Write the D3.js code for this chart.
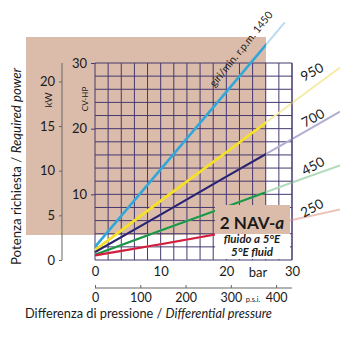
<!DOCTYPE html>
<html lang="it">
<head>
<meta charset="UTF-8">
<title>2 NAV-a – Potenza richiesta</title>
<script src="https://d3js.org/d3.v7.min.js"></script>
<style>
  body { margin: 0; background: #fff; }
  text { font-family: Lato, "Noto Sans", sans-serif; fill: #1a1a1a; }
</style>
</head>
<body>
<script>
// pressure points (bar) where each curve was read, and power in CV-HP
const pressBar = [0, 10, 20, 30, 37.3];
const press1450 = [0, 10, 20, 28.9];
const hp1450 = [2.0, 13.8, 25.6, 36.2];
const hp950 = [1.5, 9.0, 16.4, 23.9, 29.3];
const hp700 = [1.2, 6.9, 12.7, 18.4, 22.6];
const hp450 = [0.8, 4.5, 8.1, 11.8, 14.4];
const hp250 = [0.7, 2.4, 4.2, 6.1, 7.7];

const rpmLabels = ["1450", "950", "700", "450", "250"];
const strong = ["#33a6d8", "#f6e024", "#29226f", "#1c9645", "#d21d3f"];
const pale = ["#b7dcef", "#f5ecaa", "#b1aed2", "#b2dbbd", "#eec3b9"];

const barTicks = [0, 10, 20, 30];
const hpTicks = [10, 20, 30];
const kwTicks = [0, 5, 10, 15, 20];
const psiTicks = [0, 100, 200, 300, 400];

const W = 340, H = 340;
const beige = "#dbbcaa";
const gridCol = "#45386f";

const svg = d3.select("body").append("svg")
  .attr("width", W).attr("height", H);

const x = d3.scaleLinear().domain([0, 30]).range([95, 292]);
const y = d3.scaleLinear().domain([0, 30]).range([260, 63]);
const kw = d3.scaleLinear().domain([0, 30 * 0.7355]).range([260, 63]);
const psi = d3.scaleLinear().domain([0, 30 * 14.5038]).range([95, 292]);

// background panel
svg.append("rect")
  .attr("x", 26).attr("y", 37).attr("width", 240).attr("height", 198)
  .attr("fill", beige);

// square grid, one cell per 2 bar / 2 HP
const grid = svg.append("g").attr("stroke", gridCol).attr("stroke-width", 1);
grid.selectAll("line.v").data(d3.range(0, 31, 2)).join("line")
  .attr("x1", d => x(d)).attr("x2", d => x(d))
  .attr("y1", y(0)).attr("y2", y(30));
grid.selectAll("line.h").data(d3.range(0, 31, 2)).join("line")
  .attr("y1", d => y(d)).attr("y2", d => y(d))
  .attr("x1", x(0)).attr("x2", x(30));

const series = [
  { xs: press1450, ys: hp1450 },
  { xs: pressBar, ys: hp950 },
  { xs: pressBar, ys: hp700 },
  { xs: pressBar, ys: hp450 },
  { xs: pressBar, ys: hp250 }
].map((s, i) => ({ i, pts: s.xs.map((b, k) => [b, s.ys[k]]) }));

const line = d3.line().x(d => x(d[0])).y(d => y(d[1]));

svg.append("clipPath").attr("id", "inside")
  .append("rect").attr("x", 0).attr("y", 0).attr("width", 266).attr("height", H);

// faded full-length curves, then the strong part inside the panel
svg.append("g").selectAll("path").data(series).join("path")
  .attr("d", d => line(d.pts))
  .attr("fill", "none")
  .attr("stroke", d => pale[d.i])
  .attr("stroke-width", 2);

svg.append("g").attr("clip-path", "url(#inside)")
  .selectAll("path").data(series).join("path")
  .attr("d", d => line(d.pts))
  .attr("fill", "none")
  .attr("stroke", d => strong[d.i])
  .attr("stroke-width", d => d.i < 2 ? 2.6 : 2.1);

// model label box
svg.append("rect").attr("x", 215).attr("y", 205).attr("width", 75).attr("height", 29)
  .attr("fill", beige);
svg.append("rect").attr("x", 215).attr("y", 234).attr("width", 75).attr("height", 25)
  .attr("fill", "#fff");
svg.append("line").attr("stroke", gridCol).attr("stroke-width", 1)
  .attr("x1", x(30)).attr("x2", x(30)).attr("y1", y(0)).attr("y2", y(30));

const nav = svg.append("text").attr("x", 252).attr("y", 229)
  .attr("text-anchor", "middle").attr("font-size", 17).attr("font-weight", 700);
nav.append("tspan").text("2 NAV-");
nav.append("tspan").attr("font-style", "italic").text("a");
svg.append("text").attr("x", 252).attr("y", 243)
  .attr("text-anchor", "middle").attr("font-size", 11.5)
  .attr("font-weight", 700).attr("font-style", "italic")
  .text("fluido a 5°E");
svg.append("text").attr("x", 252).attr("y", 256)
  .attr("text-anchor", "middle").attr("font-size", 11.5)
  .attr("font-weight", 700).attr("font-style", "italic")
  .text("5°E fluid");

// rpm labels at the right end of each curve
const labelPos = [null, [312, 72], [313, 118], [313, 166], [312, 208]];
rpmLabels.forEach((t, i) => {
  if (i === 0) return;
  svg.append("text")
    .attr("transform", `translate(${labelPos[i][0]},${labelPos[i][1]}) rotate(-28)`)
    .attr("text-anchor", "middle").attr("dy", "0.35em")
    .attr("font-size", 13.5).text(t);
});
svg.append("text")
  .attr("transform", "translate(241,49) rotate(-51)")
  .attr("text-anchor", "middle").attr("dy", "0.35em")
  .attr("font-size", 10.5)
  .text("giri/min. r.p.m. " + rpmLabels[0]);

// CV-HP axis on the grid edge
const hpAxis = svg.append("g").attr("transform", `translate(${x(0)},0)`)
  .call(d3.axisLeft(y).tickValues(hpTicks).tickSize(4).tickPadding(4));
hpAxis.select(".domain").remove();
hpAxis.selectAll("line").attr("stroke", gridCol);
hpAxis.selectAll("text").attr("font-size", 13).attr("font-family", null);
svg.append("text").attr("transform", "translate(88,99) rotate(-90)")
  .attr("text-anchor", "middle").attr("font-size", 8).text("CV-HP");

// kW axis
const kwAxis = svg.append("g").attr("transform", "translate(62,0)")
  .call(d3.axisLeft(kw).tickValues(kwTicks).tickSize(3).tickPadding(4));
kwAxis.select(".domain").attr("d", `M0,${kw(0)}V${y(30)}`).attr("stroke", "#666");
kwAxis.selectAll("line").attr("stroke", "#666");
kwAxis.selectAll("text").attr("font-size", 13).attr("font-family", null);
svg.append("text").attr("transform", "translate(52,100) rotate(-90)")
  .attr("text-anchor", "middle").attr("font-size", 10).text("kW");

// bar labels under the grid
const barAxis = svg.append("g").attr("transform", `translate(0,${y(0)})`)
  .call(d3.axisBottom(x).tickValues(barTicks).tickSize(0).tickPadding(7));
barAxis.select(".domain").remove();
barAxis.selectAll("text").attr("font-size", 13).attr("font-family", null);
svg.append("text").attr("x", 258).attr("y", 277).attr("text-anchor", "middle")
  .attr("font-size", 13).text("bar");

// psi scale: ticks point up, labels set below the rule
const psiAxis = svg.append("g").attr("transform", "translate(0,288)")
  .call(d3.axisTop(psi).tickValues(psiTicks).tickSize(3));
psiAxis.select(".domain").attr("d", `M${x(0)},0H${x(30)}`).attr("stroke", "#666");
psiAxis.selectAll("line").attr("stroke", "#666");
psiAxis.selectAll("text")
  .attr("y", 14).attr("dy", null)
  .attr("font-size", 12.5).attr("font-family", null);
svg.append("text").attr("x", 253).attr("y", 301.5).attr("text-anchor", "middle")
  .attr("font-size", 7.5).text("p.s.i.");

// axis titles
const xt = svg.append("text").attr("x", 25).attr("y", 318)
  .attr("font-size", 12.5).attr("textLength", 247).attr("lengthAdjust", "spacingAndGlyphs");
xt.append("tspan").text("Differenza di pressione / ");
xt.append("tspan").attr("font-style", "italic").text("Differential pressure");

const yt = svg.append("text").attr("transform", "translate(21,265) rotate(-90)")
  .attr("font-size", 13).attr("textLength", 197).attr("lengthAdjust", "spacingAndGlyphs");
yt.append("tspan").text("Potenza richiesta / ");
yt.append("tspan").attr("font-style", "italic").text("Required power");
</script>
</body>
</html>
